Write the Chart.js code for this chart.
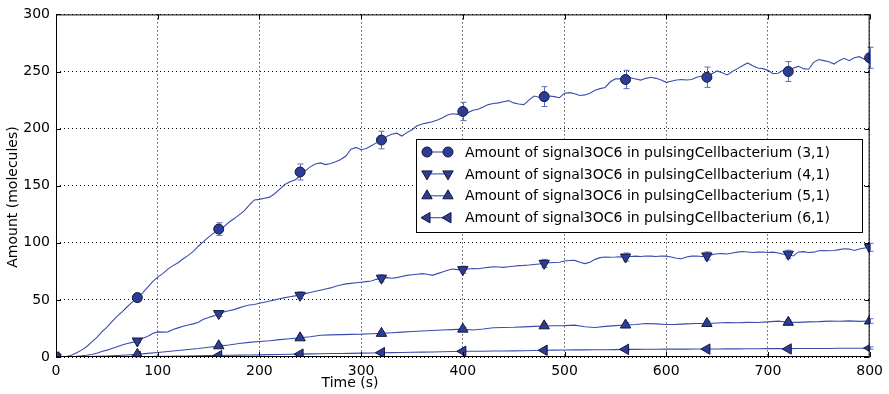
<!DOCTYPE html>
<html lang="en">
<head>
  <meta charset="UTF-8" />
  <title>signal3OC6 in pulsingCellbacterium</title>
  <script src="https://cdn.jsdelivr.net/npm/chart.js"></script>
  <style>
    body {
      margin: 0;
      background: #fff;
    }
    canvas {
      display: block;
    }
  </style>
</head>
<body>
  <canvas id="signalChart" width="889" height="394"></canvas>

  <script>
    // sampled trajectories: (3,1) and (4,1) every 5 s, (5,1) and (6,1) every 10 s
    const fineStep = 5;
    const coarseStep = 10;

    const cell31 = [
      0, 0, 0.5, 1.5, 3.5, 6, 9, 13, 17, 22, 26, 31, 35.5, 39.5, 44, 48,
      52, 56, 61, 66, 70, 73, 77, 80, 82.5, 86, 89, 92.5, 97, 101, 105, 108.5,
      111, 114, 118, 121, 124.5, 128, 133, 137.5, 138, 139, 140, 143, 147, 151, 153.5, 155,
      158.5, 163, 166.5, 169, 170, 168.5, 169.5, 171, 173, 176, 182, 183.5, 181.5, 182.5, 185, 187.5,
      189.5, 193, 195, 196, 193.5, 196.5, 199, 202.5, 204, 205, 206, 207.5, 209.5, 212, 213, 212.5,
      214.5, 214, 216, 217, 219, 221, 222, 222.5, 223.5, 224.5, 222.5, 221.5, 221, 225, 228.5, 227.5,
      228, 228.5, 228, 227, 231, 231.5, 230.5, 229, 229.5, 231, 233.5, 235, 236, 241, 243.5, 243.5,
      243.5, 244.5, 243.5, 242.5, 244, 245, 244, 242.5, 240.5, 241.5, 242.5, 243, 242.5, 243, 245, 246,
      245, 248, 250.5, 249, 247, 250, 252.5, 255, 257.5, 255, 253, 252.5, 251, 248, 248.5, 251,
      250, 253, 254.5, 252.5, 252, 258, 260.5, 259.5, 258.5, 256.5, 259.5, 261.5, 259.5, 262, 263, 260.5,
      261.5
    ];
    const cell41 = [
      0, 0, 0, 0.3, 0.6, 1, 1.5, 2.2, 3.2, 4.8, 6, 7.5, 9, 10.5, 11.8, 12.8,
      14, 16.5, 18, 20.5, 22, 21.8, 22, 24, 25.5, 27, 28, 29, 30.5, 33, 34.5, 36,
      38, 39.5, 40.5, 41.5, 43, 44.5, 45.5, 46, 47, 48, 49, 50, 51, 52, 52.8, 53.5,
      54, 55.5, 56.5, 57.5, 58.5, 59.5, 60.5, 62, 63, 64, 64.5, 65, 65.5, 66, 66.5, 68,
      69, 69.5, 69, 69.5, 70.5, 71.5, 72, 72.5, 73, 72.5, 71.5, 73, 74.5, 76, 77, 76.5,
      76.5, 77, 77.5, 77.3, 78, 78.5, 79, 78.8, 78.5, 79, 79.5, 80, 80.2, 80.5, 81, 81.5,
      82, 82.5, 82.8, 83, 84, 84.5, 84.6, 83, 81.8, 83, 85.5, 87, 87.5, 87.3, 87.5, 87.8,
      87.5, 88, 88.3, 88, 88.5, 88.3, 88, 88.5, 88.3, 87.5, 86.5, 86, 87.5, 88.3, 88.5, 88,
      88.5, 89.5, 90.4, 90.5, 90.2, 91, 91.8, 92.4, 92, 91.5, 91.8, 92, 91.5, 91.8, 91, 90,
      89.5, 88.5, 92, 92.3, 91.5, 91.8, 93, 93.3, 93, 93.3, 94, 94.8, 94.5, 93.3, 94.5, 95.5,
      96
    ];
    const cell51 = [
      0, 0, 0.1, 0.3, 0.6, 0.9, 1.3, 1.8,
      2.3, 3.2, 4, 4.8, 5.7, 6.6, 7.4, 8.5,
      9.5, 10.5, 11.8, 12.8, 13.6, 14.2, 15.2, 16,
      16.8, 17.8, 19, 19.4, 19.6, 19.8, 20, 20.4,
      20.7, 21.2, 21.8, 22.3, 22.8, 23.2, 23.6, 24,
      24.4, 23.6, 24.5, 25.6, 25.8, 26, 26.4, 26.8,
      27.2, 27.3, 27.5, 27.9, 26.5, 25.8, 26.8, 27.5,
      28, 28.5, 29.3, 29, 28.5, 28.6, 29, 29.3,
      29.4, 29.8, 30.2, 30, 30.3, 30.2, 30.8, 31.4,
      30.4, 30.3, 30.8, 31, 31.4, 31.3, 31.6, 31.2,
      31.5
    ];
    const cell61 = [
      0, 0, 0, 0, 0.1, 0.1, 0.2, 0.3,
      0.4, 0.5, 0.6, 0.7, 0.8, 0.9, 1.1, 1.2,
      1.3, 1.5, 1.6, 1.8, 1.9, 2.1, 2.2, 2.4,
      2.5, 2.7, 2.8, 3, 3.1, 3.2, 3.4, 3.5,
      3.7, 3.8, 4, 4.1, 4.3, 4.4, 4.6, 4.8,
      5, 5, 5.1, 5.2, 5.3, 5.4, 5.5, 5.7,
      5.9, 6, 6.1, 6.2, 6.2, 6.3, 6.4, 6.5,
      6.7, 6.7, 6.8, 6.8, 6.9, 6.9, 6.9, 7,
      7, 7, 7.1, 7.1, 7.2, 7.2, 7.3, 7.3,
      7.3, 7.4, 7.4, 7.5, 7.5, 7.6, 7.6, 7.7,
      7.8
    ];

    // means and standard deviations at the marked times
    const markTimes = [0, 80, 160, 240, 320, 400, 480, 560, 640, 720, 800];
    const mean31 = [0, 52, 112, 162, 190, 215, 228, 243, 245, 250, 262];
    const err31 = [0, 3.5, 5.5, 7, 7.7, 8, 8.7, 8, 8.9, 8.7, 9.2];
    const mean41 = [0, 14, 38, 54, 69, 76.5, 82, 87.5, 88.5, 90, 96];
    const err41 = [0, 1.5, 2.5, 3, 3, 3, 3.5, 3.5, 3.5, 3.5, 3.5];
    const mean51 = [0, 2.3, 9.8, 16.8, 20.7, 24.4, 27.3, 28, 29.4, 30.4, 31.5];
    const err51 = [0, 0.8, 1.2, 1.5, 1.5, 1.8, 1.8, 2, 2, 2, 2];
    const mean61 = [0, 0.4, 1.2, 2.5, 3.8, 5, 5.9, 6.7, 6.9, 7, 7.8];
    const err61 = [0, 0.3, 0.5, 0.6, 0.7, 0.8, 0.8, 0.9, 0.9, 0.9, 1];

    const seriesNames = [
      'Amount of signal3OC6 in pulsingCellbacterium (3,1)',
      'Amount of signal3OC6 in pulsingCellbacterium (4,1)',
      'Amount of signal3OC6 in pulsingCellbacterium (5,1)',
      'Amount of signal3OC6 in pulsingCellbacterium (6,1)'
    ];
    const xTicks = [0, 100, 200, 300, 400, 500, 600, 700, 800];
    const yTicks = [0, 50, 100, 150, 200, 250, 300];

    const lineColor = '#3a4cae';
    const markerFill = '#2b3d96';
    const markerEdge = '#141838';
    const errColor = '#5a6cc0';
    const font = { family: 'DejaVu Sans', size: 14 };

    const markers = [
      { style: 'circle', rotation: 0, radius: 5 },
      { style: 'triangle', rotation: 180, radius: 6 },
      { style: 'triangle', rotation: 0, radius: 6 },
      { style: 'triangle', rotation: -90, radius: 6 }
    ];

    function toPoints(values, step) {
      return values.map((v, i) => ({ x: i * step, y: v }));
    }

    function markPoints(means) {
      return markTimes.map((t, i) => ({ x: t, y: means[i] }));
    }

    const traces = [
      toPoints(cell31, fineStep),
      toPoints(cell41, fineStep),
      toPoints(cell51, coarseStep),
      toPoints(cell61, coarseStep)
    ];
    const means = [mean31, mean41, mean51, mean61];
    const errs = [err31, err41, err51, err61];

    const datasets = [];
    traces.forEach((pts, i) => {
      datasets.push({
        label: seriesNames[i],
        data: pts,
        showLine: true,
        borderColor: lineColor,
        borderWidth: 1.1,
        pointRadius: 0,
        tension: 0,
        order: 2
      });
    });
    means.forEach((m, i) => {
      datasets.push({
        label: seriesNames[i] + ' mean',
        data: markPoints(m),
        showLine: false,
        pointStyle: markers[i].style,
        rotation: markers[i].rotation,
        pointRadius: markers[i].radius,
        backgroundColor: markerFill,
        borderColor: markerEdge,
        borderWidth: 1,
        order: 1
      });
    });

    // error bars, frame, inward ticks, axis titles and legend box
    const decorations = {
      id: 'decorations',
      beforeDatasetsDraw(chart) {
        const { ctx, scales: { x, y } } = chart;
        ctx.save();
        ctx.strokeStyle = errColor;
        ctx.lineWidth = 1;
        means.forEach((m, s) => {
          markTimes.forEach((t, i) => {
            if (!errs[s][i]) return;
            const px = Math.round(x.getPixelForValue(t)) + 0.5;
            const top = y.getPixelForValue(m[i] + errs[s][i]);
            const bot = y.getPixelForValue(m[i] - errs[s][i]);
            ctx.beginPath();
            ctx.moveTo(px, top); ctx.lineTo(px, bot);
            ctx.moveTo(px - 3, top); ctx.lineTo(px + 3, top);
            ctx.moveTo(px - 3, bot); ctx.lineTo(px + 3, bot);
            ctx.stroke();
          });
        });
        ctx.restore();
      },
      afterDraw(chart) {
        const { ctx, chartArea: a, scales: { x, y } } = chart;
        ctx.save();
        ctx.strokeStyle = '#000';
        ctx.lineWidth = 1;
        ctx.strokeRect(a.left + 0.5, a.top + 0.5, a.right - a.left - 1, a.bottom - a.top - 1);

        ctx.beginPath();
        xTicks.forEach(t => {
          const px = Math.round(x.getPixelForValue(t)) + 0.5;
          ctx.moveTo(px, a.bottom); ctx.lineTo(px, a.bottom - 5);
          ctx.moveTo(px, a.top); ctx.lineTo(px, a.top + 5);
        });
        yTicks.forEach(t => {
          const py = Math.round(y.getPixelForValue(t)) + 0.5;
          ctx.moveTo(a.left, py); ctx.lineTo(a.left + 5, py);
          ctx.moveTo(a.right, py); ctx.lineTo(a.right - 5, py);
        });
        ctx.stroke();

        ctx.fillStyle = '#000';
        ctx.font = '14px "DejaVu Sans"';
        ctx.textAlign = 'center';
        ctx.textBaseline = 'middle';
        ctx.fillText('Time (s)', 350, 383);
        ctx.save();
        ctx.translate(13, 197);
        ctx.rotate(-Math.PI / 2);
        ctx.fillText('Amount (molecules)', 0, 0);
        ctx.restore();

        // legend
        const box = { left: 416.5, top: 139.5, width: 446, height: 93 };
        ctx.fillStyle = '#fff';
        ctx.fillRect(box.left, box.top, box.width, box.height);
        ctx.strokeRect(box.left, box.top, box.width, box.height);
        ctx.textAlign = 'left';
        seriesNames.forEach((name, i) => {
          const cy = box.top + 12.5 + i * 21.9;
          ctx.strokeStyle = lineColor;
          ctx.lineWidth = 1.1;
          ctx.beginPath();
          ctx.moveTo(427, cy); ctx.lineTo(448, cy);
          ctx.stroke();
          [427, 448].forEach(mx => {
            ctx.fillStyle = markerFill;
            ctx.strokeStyle = markerEdge;
            ctx.lineWidth = 1;
            Chart.helpers.drawPoint(ctx, {
              pointStyle: markers[i].style,
              rotation: markers[i].rotation,
              radius: markers[i].radius,
              borderWidth: 1
            }, mx, cy);
          });
          ctx.fillStyle = '#000';
          ctx.fillText(name, 465, cy + 1);
        });
        ctx.restore();
      }
    };

    new Chart(document.getElementById('signalChart').getContext('2d'), {
      type: 'scatter',
      data: { datasets: datasets },
      options: {
        responsive: false,
        animation: false,
        layout: { padding: { top: 13, right: 19, left: 0, bottom: 0 } },
        plugins: {
          legend: { display: false },
          tooltip: { enabled: false }
        },
        scales: {
          x: {
            type: 'linear',
            min: 0,
            max: 800,
            afterBuildTicks: s => { s.ticks = xTicks.map(v => ({ value: v })); },
            ticks: { color: '#000', font: font, padding: 6, maxRotation: 0 },
            grid: { color: '#000', lineWidth: 1, drawTicks: false },
            border: { display: false, dash: [1, 3] },
            afterFit: s => { s.height = 37; }
          },
          y: {
            min: 0,
            max: 300,
            afterBuildTicks: s => { s.ticks = yTicks.map(v => ({ value: v })); },
            ticks: { color: '#000', font: font, padding: 6 },
            grid: { color: '#000', lineWidth: 1, drawTicks: false },
            border: { display: false, dash: [1, 3] },
            afterFit: s => { s.width = 56; }
          }
        }
      },
      plugins: [decorations]
    });
  </script>
</body>
</html>
